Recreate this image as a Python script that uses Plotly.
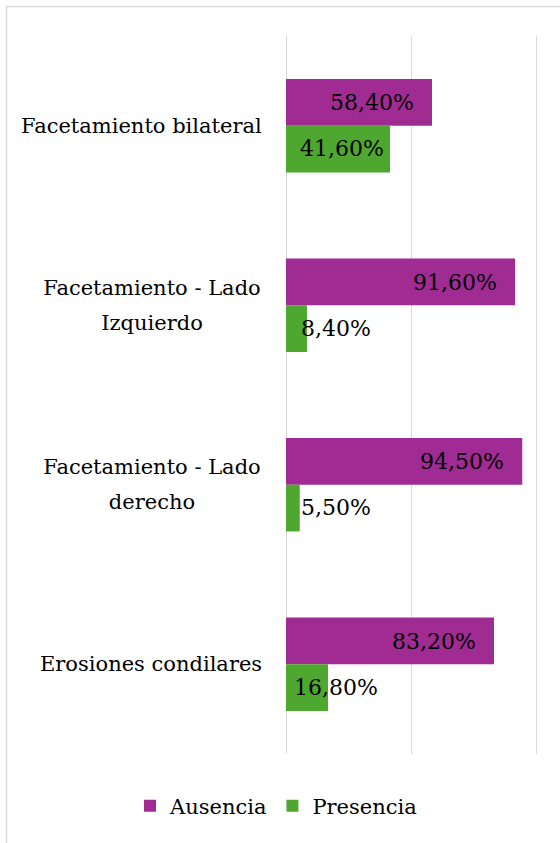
import plotly.graph_objects as go

# data
categories = [
    "Facetamiento bilateral",
    "Facetamiento - Lado<br>Izquierdo",
    "Facetamiento - Lado<br>derecho",
    "Erosiones condilares",
]
ausencia = [0.584, 0.916, 0.945, 0.832]
presencia = [0.416, 0.084, 0.055, 0.168]
ausencia_text = ["58,40%", "91,60%", "94,50%", "83,20%"]
presencia_text = ["41,60%", "8,40%", "5,50%", "16,80%"]

PURPLE = "#A02B93"
GREEN = "#4EA72E"
FONT = "DejaVu Serif"
FS = 22      # data labels
FS_CAT = 21  # category labels and legend
LINE_H = 35  # line spacing of the wrapped category labels, px

fig = go.Figure()
fig.add_trace(go.Bar(y=categories, x=ausencia, name="Ausencia", orientation="h",
                     marker=dict(color=PURPLE, line=dict(width=0))))
fig.add_trace(go.Bar(y=categories, x=presencia, name="Presencia", orientation="h",
                     marker=dict(color=GREEN, line=dict(width=0))))

annotations = []
# category labels: one annotation per line so the spacing matches the original
for c in categories:
    lines = c.split("<br>")
    for k, line in enumerate(lines):
        shift = ((len(lines) - 1) / 2 - k) * LINE_H
        ann = dict(x=0, xref="paper", y=c, yref="y", text=line, showarrow=False,
                   xanchor="right", xshift=-22, yshift=shift, align="center",
                   font=dict(family=FONT, size=FS_CAT, color="#000"))
        if len(lines) > 1:
            # wrapped labels are centred on their longest line
            ann.update(width=224, xshift=-20)
        annotations.append(ann)
# data labels
for c, v, t in zip(categories, ausencia, ausencia_text):
    annotations.append(dict(x=v, y=c, text=t, showarrow=False, xanchor="right",
                            xshift=-16, yshift=23,
                            font=dict(family=FONT, size=FS, color="#000")))
for c, v, t in zip(categories, presencia, presencia_text):
    if v > 0.3:
        pos = dict(x=v, xanchor="right", xshift=-4)
    else:
        pos = dict(x=0.2, xanchor="center")
    annotations.append(dict(y=c, text=t, showarrow=False, yshift=-23,
                            font=dict(family=FONT, size=FS, color="#000"), **pos))

fig.update_layout(
    width=560,
    height=843,
    margin=dict(l=286, r=19, t=36, b=89, autoexpand=False),
    paper_bgcolor="white",
    plot_bgcolor="white",
    barmode="group",
    bargap=0.48,
    bargroupgap=0,
    font=dict(family=FONT, size=FS, color="#000"),
    showlegend=True,
    legend=dict(orientation="h", x=(130 - 286) / 255, y=(754 - 806) / 718,
                xanchor="left", yanchor="middle",
                font=dict(family=FONT, size=FS_CAT, color="#000"),
                traceorder="normal"),
    annotations=annotations,
    shapes=[dict(type="rect", xref="paper", yref="paper",
                 x0=(6.5 - 286) / 255, x1=1.3, y0=-0.3, y1=(754 - 6.5) / 718,
                 line=dict(color="#D9D9D9", width=1.5), layer="below")],
)
fig.update_xaxes(range=[0, 1.02], dtick=0.5, showgrid=True, gridcolor="#D9D9D9",
                 gridwidth=1, zeroline=True, zerolinecolor="#D9D9D9", zerolinewidth=1,
                 showticklabels=False, showline=False, fixedrange=True)
fig.update_yaxes(autorange="reversed", showticklabels=False, showgrid=False,
                 zeroline=False, showline=False, fixedrange=True)

fig.write_html("out.html", config={"displayModeBar": False},
               post_script="document.body.style.margin='0';")
